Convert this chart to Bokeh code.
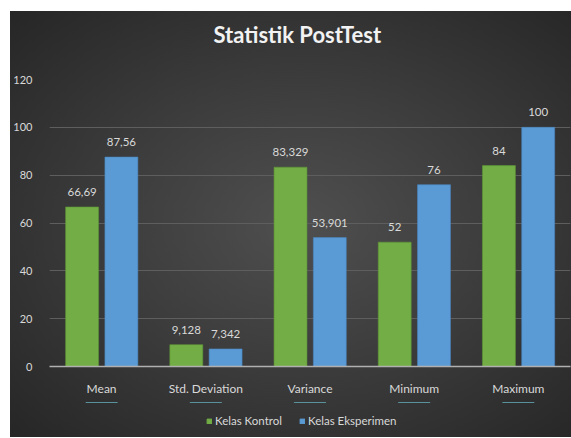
from bokeh.plotting import figure
from bokeh.models import ColumnDataSource, LabelSet, Legend, LegendItem, FixedTicker, Spacer
from bokeh.core.properties import value
from bokeh.layouts import column, row
from bokeh.transform import dodge
from bokeh.embed import file_html
from bokeh.resources import INLINE

categories = ["Mean", "Std. Deviation", "Variance", "Minimum", "Maximum"]
kontrol = [66.69, 9.128, 83.329, 52, 84]
eksperimen = [87.56, 7.342, 53.901, 76, 100]
series_names = ["Kelas Kontrol", "Kelas Eksperimen"]
y_ticks = [0, 20, 40, 60, 80, 100, 120]
title_text = "Statistik PostTest"

GREEN = "#72ae45"
BLUE = "#5b9bd5"

def fmt(v):
    return f"{v:g}".replace(".", ",")

src = ColumnDataSource(dict(
    cat=categories,
    kontrol=kontrol,
    eksperimen=eksperimen,
    lab_k=[fmt(v) for v in kontrol],
    lab_e=[fmt(v) for v in eksperimen],
))

FONT = "Lato"
TXT = "#d9d9d9"

p = figure(x_range=categories, y_range=(0, 120), width=561, height=391,
           output_backend="svg", toolbar_location=None,
           min_border_left=38, min_border_right=1, min_border_top=68, min_border_bottom=36,
           title=title_text + "\n\u00a0")
p.border_fill_alpha = 0
p.background_fill_alpha = 0
p.outline_line_color = None

p.title.align = "left"
p.title.offset = 164
p.title.text_color = "#f2f2f2"
p.title.text_font = FONT
p.title.text_font_size = "22px"
p.title.text_font_style = "bold"
p.title.text_line_height = 1.0

g = p.vbar(x=dodge("cat", -0.187, range=p.x_range), top="kontrol", width=0.316, source=src,
           fill_color=GREEN, line_color="#5f9636", line_alpha=0.6)
b = p.vbar(x=dodge("cat", 0.19, range=p.x_range), top="eksperimen", width=0.316, source=src,
           fill_color=BLUE, line_color="#4a86bf", line_alpha=0.6)

p.add_layout(LabelSet(x=dodge("cat", -0.187, range=p.x_range), y="kontrol", text="lab_k", source=src,
                      y_offset=11, text_align="center", text_baseline="alphabetic",
                      text_color=TXT, text_font=value(FONT), text_font_size="11.5px"))
p.add_layout(LabelSet(x=dodge("cat", 0.19, range=p.x_range), y="eksperimen", text="lab_e", source=src,
                      y_offset=11, text_align="center", text_baseline="alphabetic",
                      text_color=TXT, text_font=value(FONT), text_font_size="11.5px"))

p.xgrid.grid_line_color = None
p.ygrid.grid_line_color = "#5e5e5e"
p.ygrid.grid_line_width = 1

p.yaxis.ticker = FixedTicker(ticks=y_ticks)
p.yaxis.axis_line_color = None
p.yaxis.major_tick_line_color = None
p.yaxis.minor_tick_line_color = None
p.yaxis.major_label_text_color = TXT
p.yaxis.major_label_text_font = FONT
p.yaxis.major_label_text_font_size = "11px"
p.yaxis.major_label_standoff = 11

p.xaxis.axis_line_color = "#b0b0b0"
p.xaxis.axis_line_width = 1.5
p.xaxis.major_tick_line_color = None
p.xaxis.major_label_text_color = TXT
p.xaxis.major_label_text_font = FONT
p.xaxis.major_label_text_font_size = "12px"
p.xaxis.major_label_standoff = 8

# legend strip below the chart; its bars lie outside its view, only the legend shows
pl = figure(x_range=categories, y_range=(-2, -1), width=561, height=35, output_backend="svg",
            toolbar_location=None, x_axis_location=None, y_axis_location=None, min_border=0)
pl.border_fill_alpha = 0
pl.background_fill_alpha = 0
pl.outline_line_color = None
pl.xgrid.grid_line_color = None
pl.ygrid.grid_line_color = None
lg = pl.vbar(x="cat", top="kontrol", width=0.3, source=src, fill_color=GREEN, line_color=GREEN)
lb = pl.vbar(x="cat", top="eksperimen", width=0.3, source=src, fill_color=BLUE, line_color=BLUE)
legend = Legend(items=[LegendItem(label=series_names[0], renderers=[lg]),
                       LegendItem(label=series_names[1], renderers=[lb])],
                orientation="horizontal", location=(157, 10),
                glyph_width=6, glyph_height=6, label_standoff=3, spacing=17,
                label_text_color=TXT, label_text_font=FONT, label_text_font_size="11.5px",
                background_fill_alpha=0, border_line_color=None, padding=2, margin=0)
pl.add_layout(legend)

inner = column(p, pl)
inner.styles = {"background": "radial-gradient(ellipse at 52% 50%, #4f4f4f 0%, #3d3d3d 45%, #262626 100%)"}
lay = column(Spacer(height=11), row(Spacer(width=10), inner))
open("out.html", "w").write(file_html(lay, INLINE))
